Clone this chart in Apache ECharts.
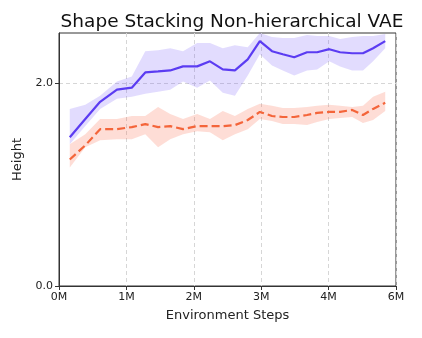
<!DOCTYPE html>
<html>
<head>
<meta charset="utf-8">
<script src="https://cdn.jsdelivr.net/npm/echarts@6/dist/echarts.min.js"></script>
<style>
  html, body { margin: 0; padding: 0; background: #fff; }
  #chart { width: 422px; height: 338px; }
</style>
</head>
<body>
<div id="chart"></div>
<script>
// x positions in axis units (last tick is labelled 6M in the original)
var steps = [0.16, 0.39, 0.61, 0.86, 1.08, 1.28, 1.47, 1.65, 1.84, 2.05, 2.24, 2.43, 2.61,
             2.80, 2.98, 3.16, 3.32, 3.49, 3.68, 3.83, 4.01, 4.17, 4.35, 4.51, 4.66, 4.84];
var xTickLabels = ['0M', '1M', '2M', '3M', '4M', '6M'];
var yTicks = [0, 2];

var purpleMean = [1.47, 1.65, 1.82, 1.94, 1.96, 2.11, 2.12, 2.13, 2.17, 2.17, 2.22, 2.14, 2.13,
                  2.24, 2.42, 2.32, 2.29, 2.26, 2.31, 2.31, 2.34, 2.31, 2.30, 2.30, 2.35, 2.42];
var purpleHigh = [1.75, 1.79, 1.88, 2.02, 2.07, 2.32, 2.33, 2.35, 2.32, 2.40, 2.40, 2.35, 2.38,
                  2.36, 2.50, 2.46, 2.45, 2.45, 2.48, 2.47, 2.47, 2.44, 2.46, 2.47, 2.47, 2.49];
var purpleLow = [1.40, 1.58, 1.75, 1.85, 1.87, 1.90, 1.92, 1.94, 2.02, 1.96, 2.03, 1.91, 1.88,
                 2.08, 2.29, 2.18, 2.13, 2.08, 2.13, 2.14, 2.22, 2.17, 2.13, 2.13, 2.22, 2.35];

var redMean = [1.25, 1.39, 1.55, 1.55, 1.57, 1.60, 1.57, 1.58, 1.55, 1.58, 1.58, 1.58, 1.59,
               1.64, 1.72, 1.68, 1.67, 1.67, 1.69, 1.71, 1.72, 1.72, 1.74, 1.69, 1.75, 1.81];
var redHigh = [1.40, 1.50, 1.65, 1.65, 1.68, 1.68, 1.77, 1.70, 1.65, 1.70, 1.65, 1.73, 1.68,
               1.75, 1.80, 1.78, 1.76, 1.76, 1.77, 1.78, 1.79, 1.78, 1.77, 1.78, 1.87, 1.92];
var redLow = [1.17, 1.37, 1.44, 1.45, 1.45, 1.50, 1.37, 1.45, 1.50, 1.53, 1.52, 1.44, 1.50,
              1.55, 1.65, 1.63, 1.60, 1.60, 1.59, 1.62, 1.65, 1.66, 1.67, 1.61, 1.64, 1.73];

function pairs(ys) {
    return steps.map(function (x, i) { return [x, ys[i]]; });
}

// band drawn as one polygon, corners from the axes' own coord()
function band(lo, hi, color) {
    return {
        type: 'custom',
        clip: true,
        silent: true,
        z: 1,
        data: steps.map(function (x, i) { return [x, lo[i], hi[i]]; }),
        renderItem: function (params, api) {
            if (params.dataIndexInside !== 0) return;
            var pts = [];
            for (var i = 0; i < steps.length; i++) pts.push(api.coord([steps[i], hi[i]]));
            for (var j = steps.length - 1; j >= 0; j--) pts.push(api.coord([steps[j], lo[j]]));
            return {
                type: 'polygon',
                shape: { points: pts },
                style: { fill: color, stroke: null }
            };
        }
    };
}

var dom = document.getElementById('chart');
var myChart = echarts.init(dom, null, { renderer: 'canvas' });
var font = 'DejaVu Sans';

var option = {
    animation: false,
    backgroundColor: '#fff',
    title: {
        text: 'Shape Stacking Non-hierarchical VAE',
        left: 227,
        textAlign: 'center',
        top: 8,
        textStyle: { fontFamily: font, fontSize: 18.5, fontWeight: 'normal', color: '#111' }
    },
    grid: {
        left: 59, right: 26, top: 33, bottom: 52,
        show: true, borderColor: '#333', borderWidth: 1
    },
    xAxis: {
        type: 'value',
        min: 0, max: 5, interval: 1,
        name: 'Environment Steps',
        nameLocation: 'middle',
        nameGap: 23,
        nameTextStyle: { fontFamily: font, fontSize: 13, color: '#222' },
        axisLine: { show: true, lineStyle: { color: '#333' } },
        axisTick: { show: true, inside: false, length: 4, lineStyle: { color: '#333' } },
        axisLabel: {
            fontFamily: font, fontSize: 11, color: '#222', margin: 6,
            formatter: function (v) { return xTickLabels[Math.round(v)]; }
        },
        splitLine: { show: true, lineStyle: { color: '#d6d6d6', type: [4, 3] } }
    },
    yAxis: {
        type: 'value',
        min: 0, max: 2.5, interval: 2,
        name: 'Height',
        nameLocation: 'middle',
        nameGap: 34,
        nameTextStyle: { fontFamily: font, fontSize: 13, color: '#222' },
        axisLine: { show: true, lineStyle: { color: '#333' } },
        axisTick: { show: true, inside: false, length: 4, customValues: yTicks, lineStyle: { color: '#333' } },
        axisLabel: {
            fontFamily: font, fontSize: 11, color: '#222', margin: 6,
            customValues: yTicks,
            formatter: function (v) { return v.toFixed(1); }
        },
        splitLine: { show: true, lineStyle: { color: '#d6d6d6', type: [4, 3] } }
    },
    series: [
        band(purpleLow, purpleHigh, 'rgba(110, 80, 250, 0.2)'),
        band(redLow, redHigh, 'rgba(250, 100, 70, 0.22)'),
        {
            name: 'purple',
            type: 'line',
            data: pairs(purpleMean),
            showSymbol: false,
            z: 3,
            lineStyle: { color: '#5b3cf2', width: 2.2 }
        },
        {
            name: 'red',
            type: 'line',
            data: pairs(redMean),
            showSymbol: false,
            z: 3,
            lineStyle: { color: '#f4653a', width: 2.2, type: [8, 4] }
        }
    ]
};

myChart.setOption(option, true);
</script>
</body>
</html>
